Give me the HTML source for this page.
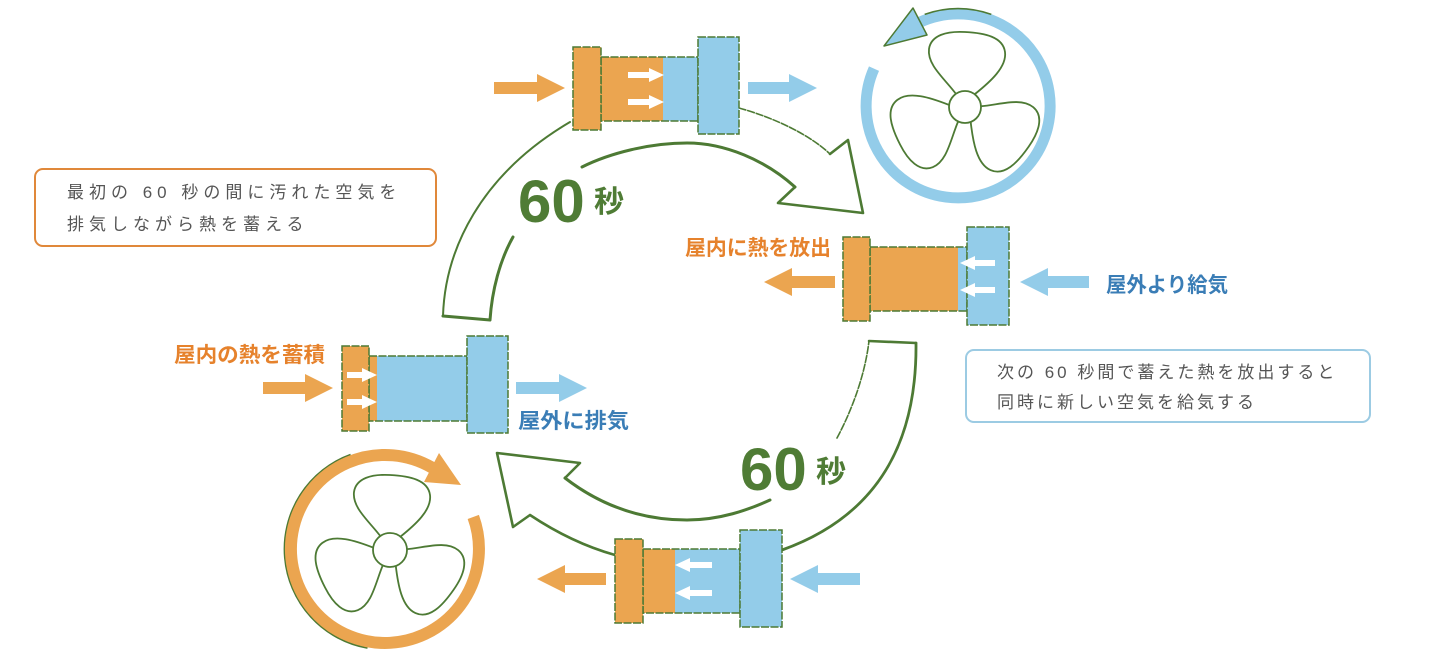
<!DOCTYPE html>
<html><head><meta charset="utf-8">
<style>
html,body{margin:0;padding:0;background:#fff;}
svg{display:block;}
.t{font-family:"Liberation Sans","Noto Sans CJK JP",sans-serif;}
</style></head>
<body>
<svg width="1440" height="662" viewBox="0 0 1440 662" xmlns="http://www.w3.org/2000/svg">
<defs>
  <path id="blade" d="M -9,-13 C -20,-28 -38,-42 -36,-58 C -34,-72 -18,-76 0,-75 C 20,-74 38,-70 40,-55 C 42,-40 25,-25 10,-13" fill="none" stroke="#4d7a34" stroke-width="1.8" stroke-linecap="round"/>
</defs>
<rect width="1440" height="662" fill="#fff"/>

<!-- ===== Big cycle arrows ===== -->
<g fill="none" stroke="#4d7a34" stroke-linejoin="round" stroke-linecap="round">
  <path d="M 443,316 C 445,250 480,175 570,122" stroke-width="2"/>
  <path d="M 739,108 C 775,118 810,135 830,154" stroke-width="1.6" stroke-dasharray="7 2"/>
  <path d="M 830,154 L 848,140 L 863,213 L 778,203 L 795,187" stroke-width="2.6"/>
  <path d="M 795,187 C 765,160 725,143 687,143 C 650,143 610,153 582,167" stroke-width="3"/>
  <path d="M 513,237 C 500,260 492,290 490,320 L 443,316" stroke-width="3"/>
  <path d="M 916,343 C 917,440 880,515 782,550" stroke-width="2.8"/>
  <path d="M 615,555 C 590,548 560,535 530,515 L 513,527 L 497,453 L 580,463 L 565,478" stroke-width="2.6"/>
  <path d="M 565,478 C 600,505 640,520 687,520 C 720,520 748,510 770,500" stroke-width="3"/>
  <path d="M 837,438 C 852,410 865,375 869,341" stroke-width="1.6" stroke-dasharray="7 2"/>
  <path d="M 869,341 L 916,343" stroke-width="2.6"/>
</g>

<!-- 60秒 labels -->
<g class="t" fill="#4f7c35" font-weight="bold">
  <text x="518" y="222" font-size="60">60</text>
  <text x="594" y="212" font-size="30">秒</text>
  <text x="740" y="490" font-size="60">60</text>
  <text x="816" y="482" font-size="30">秒</text>
</g>

<!-- ===== Top-right fan (blue) ===== -->
<g>
  <path d="M 874,68.6 A 92 92 0 1 0 919,22.6" fill="none" stroke="#93cce9" stroke-width="11"/>
  <path d="M 924.7,14.4 A 97.5 97.5 0 0 1 991.3,14.4" fill="none" stroke="#4d7a34" stroke-width="1.6"/>
  <polygon points="913,8 927,35 884,46" fill="#93cce9" stroke="#4d7a34" stroke-width="1.5" stroke-linejoin="round"/>
  <g transform="translate(965,107)">
    <use href="#blade"/>
    <use href="#blade" transform="rotate(122)"/>
    <use href="#blade" transform="rotate(240)"/>
    <circle cx="0" cy="0" r="16" fill="#fff" stroke="#4d7a34" stroke-width="1.8"/>
  </g>
</g>

<!-- ===== Bottom-left fan (orange) ===== -->
<g>
  <path d="M 367.5,648 A 100.5 100.5 0 0 1 350.6,454.6" fill="none" stroke="#4d7a34" stroke-width="1.8"/>
  <path d="M 473.3,516.9 A 94 94 0 1 1 432,467.6" fill="none" stroke="#eba550" stroke-width="12"/>
  <polygon points="439,453 424,482 461,485" fill="#eba550"/>
  <g transform="translate(390,550)">
    <use href="#blade"/>
    <use href="#blade" transform="rotate(122)"/>
    <use href="#blade" transform="rotate(240)"/>
    <circle cx="0" cy="0" r="17" fill="#fff" stroke="#4d7a34" stroke-width="1.8"/>
  </g>
</g>

<!-- ===== Units ===== -->
<g stroke="#4d7a34" stroke-width="1.5" stroke-dasharray="8 1.5">
  <rect x="601" y="57" width="62" height="64" fill="#eba550" stroke="none"/>
  <rect x="663" y="57" width="35" height="64" fill="#93cce9" stroke="none"/>
  <rect x="601" y="57" width="97" height="64" fill="none"/>
  <rect x="573" y="47" width="28" height="83" fill="#eba550"/>
  <rect x="698" y="37" width="41" height="97" fill="#93cce9"/>

  <rect x="369" y="356" width="8" height="65" fill="#eba550" stroke="none"/>
  <rect x="377" y="356" width="90" height="65" fill="#93cce9" stroke="none"/>
  <rect x="369" y="356" width="98" height="65" fill="none"/>
  <rect x="342" y="346" width="27" height="85" fill="#eba550"/>
  <rect x="467" y="336" width="41" height="97" fill="#93cce9"/>

  <rect x="870" y="247" width="88" height="64" fill="#eba550" stroke="none"/>
  <rect x="958" y="247" width="9" height="64" fill="#93cce9" stroke="none"/>
  <rect x="870" y="247" width="97" height="64" fill="none"/>
  <rect x="843" y="237" width="27" height="84" fill="#eba550"/>
  <rect x="967" y="227" width="42" height="98" fill="#93cce9"/>

  <rect x="643" y="549" width="32" height="64" fill="#eba550" stroke="none"/>
  <rect x="675" y="549" width="65" height="64" fill="#93cce9" stroke="none"/>
  <rect x="643" y="549" width="97" height="64" fill="none"/>
  <rect x="615" y="539" width="28" height="84" fill="#eba550"/>
  <rect x="740" y="530" width="42" height="97" fill="#93cce9"/>
</g>

<!-- white inner arrows -->
<g fill="#fff">
  <polygon points="628,72 649,72 649,68 664,75 649,82 649,78 628,78"/>
  <polygon points="628,99 649,99 649,95 664,102 649,109 649,105 628,105"/>
  <polygon points="347,372 362,372 362,368 377,375 362,382 362,378 347,378"/>
  <polygon points="347,399 362,399 362,395 377,402 362,409 362,405 347,405"/>
  <polygon points="995,260 975,260 975,256 960,263 975,270 975,266 995,266"/>
  <polygon points="995,287 975,287 975,283 960,290 975,297 975,293 995,293"/>
  <polygon points="712,562 690,562 690,558 675,565 690,572 690,568 712,568"/>
  <polygon points="712,590 690,590 690,586 675,593 690,600 690,596 712,596"/>
</g>

<!-- flow arrows -->
<g>
  <polygon fill="#eba550" points="494,82 537,82 537,74 565,88 537,102 537,94 494,94"/>
  <polygon fill="#93cce9" points="748,82 789,82 789,74 817,88 789,102 789,94 748,94"/>
  <polygon fill="#eba550" points="263,382 305,382 305,374 333,388 305,402 305,394 263,394"/>
  <polygon fill="#93cce9" points="516,382 559,382 559,374 587,388 559,402 559,394 516,394"/>
  <polygon fill="#eba550" points="835,276 792,276 792,268 764,282 792,296 792,288 835,288"/>
  <polygon fill="#93cce9" points="1089,276 1048,276 1048,268 1020,282 1048,296 1048,288 1089,288"/>
  <polygon fill="#eba550" points="606,573 565,573 565,565 537,579 565,593 565,585 606,585"/>
  <polygon fill="#93cce9" points="860,573 818,573 818,565 790,579 818,593 818,585 860,585"/>
</g>

<!-- labels -->
<g class="t" font-weight="bold" font-size="21">
  <text x="174" y="362" fill="#e6822c" textLength="151" lengthAdjust="spacingAndGlyphs">屋内の熱を蓄積</text>
  <text x="518" y="428" fill="#3a7db6" textLength="111" lengthAdjust="spacingAndGlyphs">屋外に排気</text>
  <text x="685" y="255" fill="#e6822c" textLength="146" lengthAdjust="spacingAndGlyphs">屋内に熱を放出</text>
  <text x="1106" y="292" fill="#3a7db6" textLength="122" lengthAdjust="spacingAndGlyphs">屋外より給気</text>
</g>

<!-- text boxes -->
<rect x="35" y="169" width="401" height="77" rx="8" ry="8" fill="#fff" stroke="#e0883a" stroke-width="2"/>
<g class="t" font-size="17" fill="#555" letter-spacing="5">
  <text x="67" y="198">最初の 60 秒の間に汚れた空気を</text>
  <text x="67" y="230">排気しながら熱を蓄える</text>
</g>
<rect x="966" y="350" width="404" height="72" rx="8" ry="8" fill="#fff" stroke="#9ccbe3" stroke-width="2"/>
<g class="t" font-size="17" fill="#555" letter-spacing="3">
  <text x="997" y="378">次の 60 秒間で蓄えた熱を放出すると</text>
  <text x="997" y="408">同時に新しい空気を給気する</text>
</g>
</svg>
</body></html>
